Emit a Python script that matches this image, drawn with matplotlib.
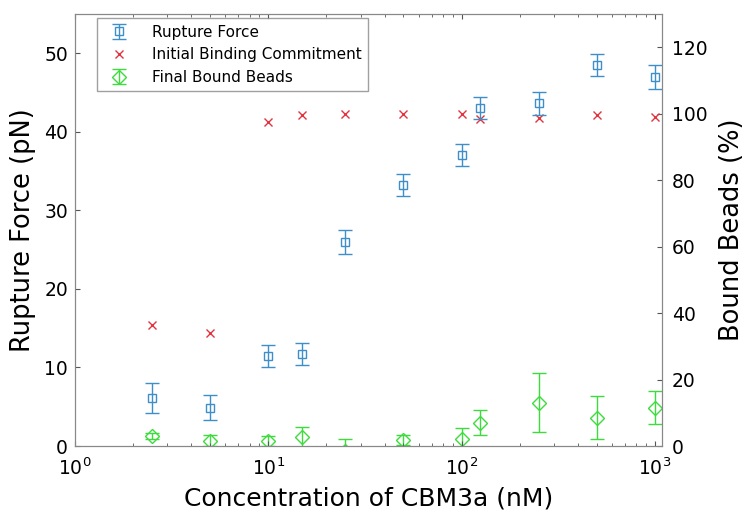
import numpy as np
import matplotlib
matplotlib.use("Agg")
import matplotlib.pyplot as plt

# concentrations of CBM3a (nM)
concentration = [2.5, 5, 10, 15, 25, 50, 100, 125, 250, 500, 1000]

# rupture force (pN) with error, left axis
rupture_force = [6.1, 4.9, 11.5, 11.7, 26.0, 33.2, 37.0, 43.0, 43.6, 48.5, 47.0]
rupture_err = [1.9, 1.6, 1.4, 1.45, 1.5, 1.4, 1.4, 1.4, 1.45, 1.4, 1.55]

# initial binding commitment (%), right axis
initial_binding = [36.4, 34.1, 97.6, 99.5, 100.0, 100.0, 100.0, 98.5, 98.7, 99.7, 99.0]

# final bound beads (%) with error, right axis
# (the 25 nM marker sits below the axis, only its upper error bar shows)
final_bound = [3.0, 1.6, 1.6, 2.8, -1.5, 1.8, 2.0, 7.0, 13.0, 8.5, 11.5]
final_err = [1.0, 1.6, 1.5, 3.0, 3.5, 1.4, 3.5, 3.8, 8.9, 6.4, 5.0]

blue = "#3d8ec9"
red = "#e0343f"
green = "#3ddc3d"

plt.rcParams["font.family"] = "DejaVu Sans"

fig = plt.figure(figsize=(7.47, 5.2), dpi=100)
ax = fig.add_axes([0.1004, 0.1423, 0.786, 0.831])
ax2 = ax.twinx()

# left axis: rupture force
h1 = ax.errorbar(concentration, rupture_force, yerr=rupture_err, fmt="s", color=blue,
                 markerfacecolor="none", markersize=6, markeredgewidth=1.0,
                 elinewidth=1.0, capsize=5, label="Rupture Force")

# right axis: bound beads
h2, = ax2.plot(concentration, initial_binding, "x", color=red, markersize=6,
               markeredgewidth=1.0, label="Initial Binding Commitment")
h3 = ax2.errorbar(concentration, final_bound, yerr=final_err, fmt="D", color=green,
                  markerfacecolor="none", markersize=7, markeredgewidth=1.0,
                  elinewidth=1.0, capsize=5, label="Final Bound Beads")

ax.set_xscale("log")
ax.set_xlim(1, 1090)
ax.set_ylim(0, 55)
ax2.set_ylim(0, 130)
ax.set_yticks([0, 10, 20, 30, 40, 50])
ax2.set_yticks([0, 20, 40, 60, 80, 100, 120])
ax.set_xticks([1, 10, 100, 1000])
ax.set_xticklabels([r"$10^0$", r"$10^1$", r"$10^2$", r"$10^3$"])

ax.set_xlabel("Concentration of CBM3a (nM)", fontsize=18, labelpad=6)
ax.set_ylabel("Rupture Force (pN)", fontsize=18.5, labelpad=6)
ax2.set_ylabel("Bound Beads (%)", fontsize=18.5, labelpad=8)

for a in (ax, ax2):
    a.tick_params(which="both", direction="in", labelsize=13.5, color="#555555")
    for s in a.spines.values():
        s.set_color("#888888")
ax.tick_params(which="both", top=True)
ax.tick_params(axis="x", pad=8)
ax.tick_params(axis="y", right=False, pad=5)
ax2.tick_params(axis="y", pad=7)

leg = ax.legend(handles=[h1, h2, h3], loc="upper left", bbox_to_anchor=(0.03, 1.0),
                fontsize=11, frameon=True, fancybox=False, edgecolor="#888888",
                borderaxespad=0.3, handletextpad=1.2)
leg.get_frame().set_linewidth(1.0)
ax.set_zorder(ax2.get_zorder() + 1)
ax.patch.set_visible(False)

fig.savefig("out.png", dpi=100)
